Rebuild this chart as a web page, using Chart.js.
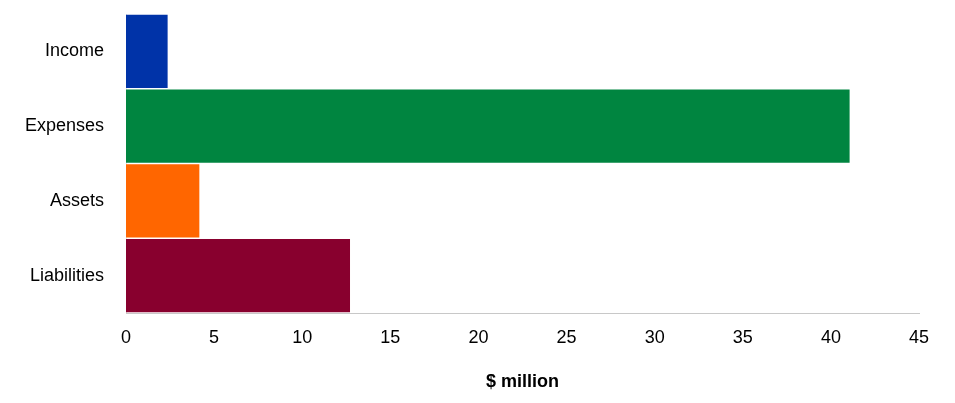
<!DOCTYPE html>
<html>
<head>
<meta charset="utf-8">
<script src="https://cdn.jsdelivr.net/npm/chart.js@4"></script>
<style>
  body { margin: 0; background: #fff; }
  #wrap { width: 955px; height: 403px; }
</style>
</head>
<body>
<div id="wrap"><canvas id="bars" width="955" height="403"></canvas></div>
<script>
const categories = ['Income', 'Expenses', 'Assets', 'Liabilities'];
const values = [2.4, 41.1, 4.2, 12.75];
const barColours = ['#0033a8', '#008540', '#ff6600', '#88002e'];
const xTicks = [0, 5, 10, 15, 20, 25, 30, 35, 40, 45];

const font = "'Liberation Sans', Arial, sans-serif";
const ctx = document.getElementById('bars').getContext('2d');

new Chart(ctx, {
  type: 'bar',
  data: {
    labels: categories,
    datasets: [{
      label: '$ million',
      data: values,
      backgroundColor: barColours,
      borderColor: 'rgba(255,255,255,0.55)',
      borderWidth: 1,
      barPercentage: 1,
      categoryPercentage: 1
    }]
  },
  options: {
    indexAxis: 'y',
    responsive: false,
    animation: false,
    layout: { padding: { top: 14, right: 36, left: 0, bottom: 0 } },
    plugins: { legend: { display: false }, tooltip: { enabled: false } },
    scales: {
      x: {
        min: 0,
        max: 45,
        afterBuildTicks: axis => { axis.ticks = xTicks.map(v => ({ value: v })); },
        afterFit: axis => { axis.height = 90; },
        grid: { display: false, drawTicks: false },
        border: { display: true, color: '#c8c8c8', width: 1 },
        ticks: { color: '#000', padding: 14, font: { family: font, size: 18 } },
        title: {
          display: true,
          text: '$ million',
          color: '#000',
          padding: { top: 0, bottom: 10 },
          font: { family: font, size: 18, weight: 'bold' }
        }
      },
      y: {
        afterFit: axis => { axis.width = 126; axis.paddingTop = 0; axis.paddingBottom = 0; },
        grid: { display: false, drawTicks: false },
        border: { display: true, color: '#c8c8c8', width: 1 },
        ticks: { color: '#000', padding: 22, font: { family: font, size: 18 } }
      }
    }
  }
});
</script>
</body>
</html>
